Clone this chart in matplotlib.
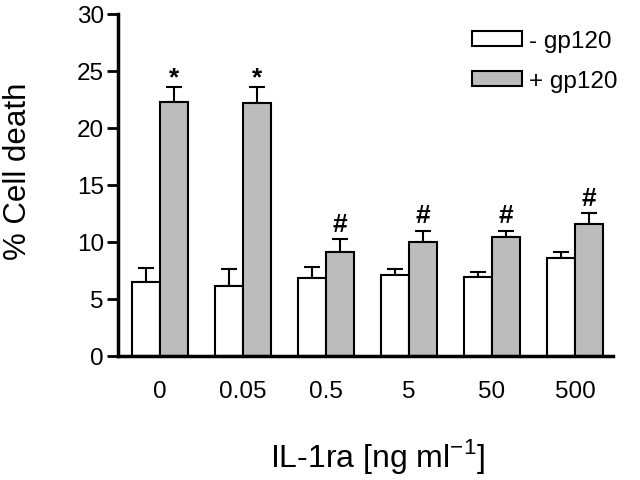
import matplotlib
matplotlib.use("Agg")
import matplotlib.pyplot as plt
import numpy as np

plt.rcParams["font.family"] = ["Liberation Sans", "DejaVu Sans"]

doses = ["0", "0.05", "0.5", "5", "50", "500"]
minus_gp120 = [6.5, 6.1, 6.8, 7.1, 6.9, 8.6]
minus_err = [1.2, 1.5, 1.0, 0.5, 0.5, 0.55]
plus_gp120 = [22.3, 22.2, 9.1, 10.0, 10.4, 11.6]
plus_err = [1.25, 1.35, 1.15, 1.0, 0.6, 0.9]
marks = ["*", "*", "#", "#", "#", "#"]

fig = plt.figure(figsize=(6.4, 4.81), dpi=100)
ax = fig.add_axes([0.184, 0.258, 0.774, 0.711])

x = np.arange(len(doses))
w = 0.337
gray = "#bcbcbc"

ax.bar(x - w / 2, minus_gp120, w, color="white", edgecolor="black", linewidth=1.5, zorder=2, label="- gp120")
ax.bar(x + w / 2, plus_gp120, w, color=gray, edgecolor="black", linewidth=1.5, zorder=2, label="+ gp120")
ax.errorbar(x - w / 2, minus_gp120, yerr=[np.zeros(len(x)), minus_err], fmt="none",
            ecolor="black", elinewidth=1.5, capsize=6, capthick=1.5, zorder=1)
ax.errorbar(x + w / 2, plus_gp120, yerr=[np.zeros(len(x)), plus_err], fmt="none",
            ecolor="black", elinewidth=1.5, capsize=6, capthick=1.5, zorder=1)

for xi, v, e, m in zip(x, plus_gp120, plus_err, marks):
    # asterisk glyph sits high in its box, so pull it down a bit
    off = -0.15 if m == "*" else 0.3
    ax.text(xi + w / 2, v + e + off, m, ha="center", va="bottom", fontsize=19, fontweight="bold")

ax.set_xlim(-0.506, 5.46)
ax.set_ylim(0, 30)
ax.set_yticks(range(0, 31, 5))
ax.set_xticks(x)
ax.set_xticklabels(doses)
ax.tick_params(axis="y", labelsize=17.5, width=2, length=8, direction="out", pad=2)
ax.tick_params(axis="x", labelsize=17.5, length=0, pad=17)
for s in ["top", "right"]:
    ax.spines[s].set_visible(False)
ax.spines["left"].set_linewidth(2.5)
ax.spines["bottom"].set_linewidth(2.5)

ax.set_ylabel("% Cell death", fontsize=22.5)
ax.yaxis.set_label_coords(-0.172, 0.544)
ax.set_xlabel(r"IL-1ra [ng ml$^{\mathregular{-1}}$]", fontsize=23)
ax.xaxis.set_label_coords(0.525, -0.235)

ax.legend(loc="upper right", bbox_to_anchor=(1.053, 1.016), frameon=False, fontsize=17.5,
          handlelength=2.05, handleheight=0.6, handletextpad=0.3, labelspacing=0.72)

fig.savefig("out.png", dpi=100)
